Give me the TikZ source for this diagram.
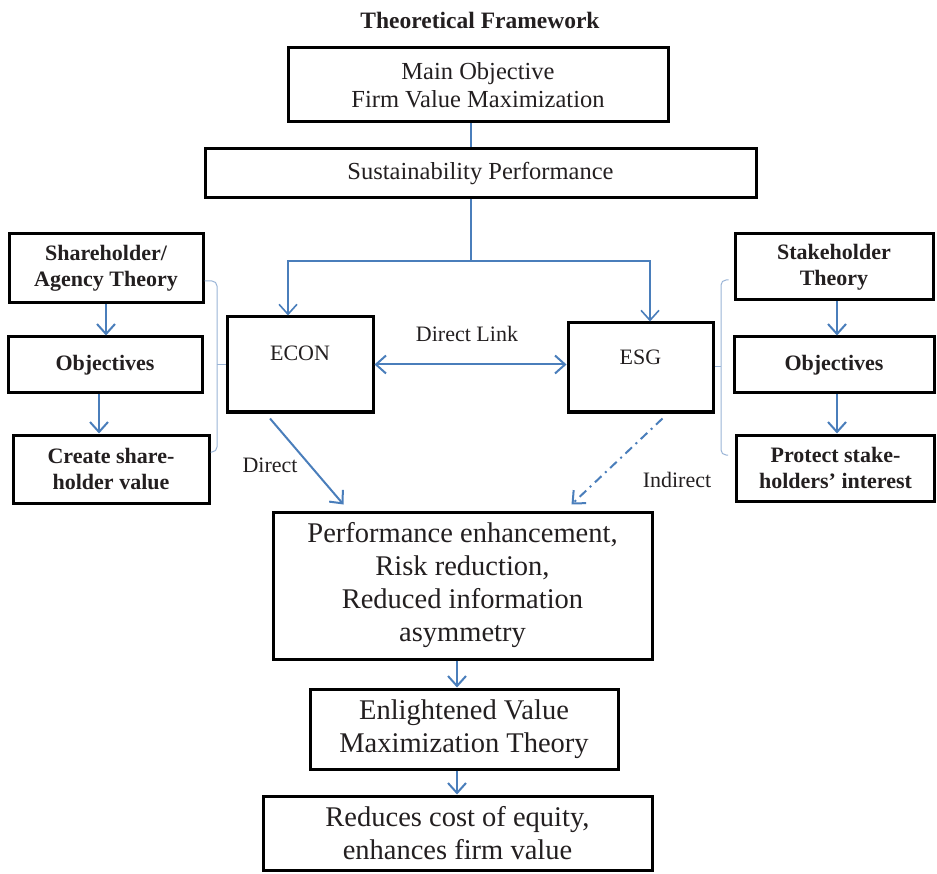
\documentclass[tikz,border=0pt]{standalone}
\usepackage{fontspec}
\setmainfont{Liberation Serif}
\usetikzlibrary{arrows.meta}
\definecolor{cblue}{HTML}{4A7EBB}
\definecolor{cbrace}{HTML}{9AB4D6}
\definecolor{ctext}{HTML}{231F20}

\begin{document}
\begin{tikzpicture}[
  x=1pt, y=-1pt,
  >={Straight Barb[length=10pt, width=18pt]},
  box/.style={draw, line width=3pt, align=center, inner sep=2pt, text=ctext},
  bigtxt/.style={font=\fontsize{24.5}{28}\selectfont},
  hugetxt/.style={font=\fontsize{28.5}{33}\selectfont},
  lbl/.style={text=ctext, font=\fontsize{22}{26}\selectfont},
  sidebox/.style={box, minimum width=194pt, font=\bfseries\fontsize{22}{26}\selectfont},
  arr/.style={->, line width=2pt, draw=cblue},
  link/.style={line width=1.3pt, draw=cblue},
  brace/.style={line width=1pt, draw=cbrace, rounded corners=5pt},
  ]
\useasboundingbox (0,0) rectangle (937,874);

% top
\node[lbl, font=\bfseries\fontsize{23.5}{27}\selectfont] (title) at (480,20) {Theoretical Framework};
\node[box, bigtxt, minimum width=380pt, minimum height=74pt] (main) at (478,85)
  {Main Objective\\Firm Value Maximization};
\node[box, bigtxt, minimum width=551pt, minimum height=49pt] (sust) at (480.5,173.5)
  {Sustainability Performance};

% middle
\node[box, lbl, minimum width=146pt, minimum height=95pt, text depth=22pt] (econ) at (300,364.5) {ECON};
\node[box, lbl, minimum width=145pt, minimum height=89pt, text depth=21pt] (esg) at (640.5,367.5) {ESG};

% left column
\node[sidebox, minimum height=69pt] (share) at (106,268.5) {Shareholder/\\Agency Theory};
\node[sidebox, minimum height=56pt] (lobj) at (105,365) {Objectives};
\node[sidebox, minimum width=196pt, minimum height=68pt] (create) at (111,469) {Create share-\\holder value};

% right column
\node[sidebox, minimum width=198pt, minimum height=66pt] (stake) at (834,267) {Stakeholder\\Theory};
\node[sidebox, minimum width=200pt, minimum height=56pt] (robj) at (834,365) {Objectives};
\node[sidebox, minimum width=198pt, minimum height=66pt] (protect) at (835.5,468) {Protect stake-\\holders' interest};

% bottom
\node[box, hugetxt, minimum width=379pt, minimum height=147pt] (perf) at (462.5,585.5)
  {Performance enhancement,\\Risk reduction,\\Reduced information\\asymmetry};
\node[box, hugetxt, minimum width=308pt, minimum height=80pt] (enl) at (464,729)
  {Enlightened Value\\Maximization Theory};
\node[box, hugetxt, minimum width=389pt, minimum height=74pt] (reduce) at (457.5,833)
  {Reduces cost of equity,\\enhances firm value};

% labels
\node[lbl] (dlink) at (467,334) {Direct Link};
\node[lbl] (dlabel) at (270,465) {Direct};
\node[lbl] (ilabel) at (677,480) {Indirect};

% connectors
\coordinate (split) at (471,261);
\draw[link] (main.south -| split) -- (sust.north -| split);
\draw[link] (sust.south -| split) -- (split);
\draw[arr, line width=1.6pt] (split) -| ([xshift=-12pt]econ.north);
\draw[arr, line width=1.6pt] (split) -| ([xshift=9.5pt]esg.north);
\draw[arr, <->] (econ.east) -- (econ.east -| esg.west);
\draw[arr] ([xshift=-30pt,yshift=-5pt]econ.south) -- ([xshift=-119pt,yshift=6pt]perf.north);
\draw[arr, dash pattern=on 9pt off 5pt on 2pt off 5pt] ([xshift=22pt,yshift=-5pt]esg.south)
  -- ([xshift=109pt,yshift=6pt]perf.north);
\draw[arr] ([xshift=-5.5pt]perf.south) -- ([xshift=-5.5pt]perf.south |- enl.north);
\draw[arr] ([xshift=-7pt]enl.south) -- ([xshift=-7pt]enl.south |- reduce.north);

\draw[arr] (share.south) -- (share.south |- lobj.north);
\draw[arr] ([xshift=-6pt]lobj.south) -- ([xshift=-6pt]lobj.south |- create.north);
\draw[arr] ([xshift=3pt]stake.south) -- ([xshift=3pt]stake.south |- robj.north);
\draw[arr] ([xshift=3pt]robj.south) -- ([xshift=3pt]robj.south |- protect.north);

% brackets
\coordinate (lbrace) at (217,365);
\draw[brace] ([yshift=-12.5pt]share.east) -| (lbrace) |- ([yshift=17pt]create.east);
\draw[brace] (lbrace) -- (lbrace -| econ.west);
\coordinate (rbrace) at (721,367);
\draw[brace] ([xshift=-5pt,yshift=-13pt]stake.west) -| (rbrace) |- ([xshift=-7pt,yshift=13pt]protect.west);
\draw[brace] (rbrace) -- (rbrace -| esg.east);
\end{tikzpicture}
\end{document}
